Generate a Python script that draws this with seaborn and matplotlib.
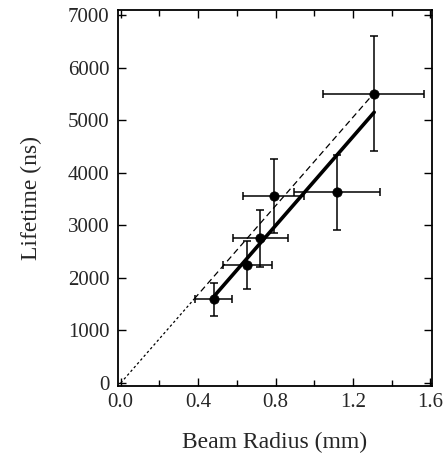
import matplotlib
matplotlib.use("Agg")
import matplotlib.pyplot as plt
from matplotlib.ticker import MultipleLocator
import seaborn as sns
import pandas as pd

# Data
radius = [0.48, 0.655, 0.722, 0.79, 1.117, 1.307]
lifetime = [1590, 2250, 2750, 3555, 3630, 5505]
radius_err = [0.095, 0.127, 0.144, 0.158, 0.222, 0.262]
lifetime_err = [310, 455, 548, 700, 713, 1100]

fit_x = [0.48, 1.31]
fit_y = [1640, 5150]

prop_dotted_x = [0.0, 0.38]
prop_dotted_y = [0, 1600]
prop_dashed_x = [0.38, 1.307]
prop_dashed_y = [1600, 5505]

xticks = [0.0, 0.4, 0.8, 1.2, 1.6]
yticks = [0, 1000, 2000, 3000, 4000, 5000, 6000, 7000]

sns.set_theme(style="ticks")
plt.rcParams['font.family'] = ['Liberation Serif', 'DejaVu Serif']

fig = plt.figure(figsize=(4.48, 4.55), dpi=100)
ax = fig.add_axes([0.2634, 0.1516, 0.701, 0.8264])

df = pd.DataFrame({"r": radius, "t": lifetime})

ax.errorbar(radius, lifetime, xerr=radius_err, yerr=lifetime_err, fmt="none",
            ecolor="black", elinewidth=1.1, capsize=3, capthick=1.1, zorder=2)

sns.lineplot(x=prop_dotted_x, y=prop_dotted_y, ax=ax, color="black", lw=0.9,
             linestyle=(0, (2, 2)), zorder=3)
sns.lineplot(x=prop_dashed_x, y=prop_dashed_y, ax=ax, color="black", lw=0.9,
             linestyle=(0, (5, 3)), zorder=3)
sns.lineplot(x=fit_x, y=fit_y, ax=ax, color="black", lw=2.6, zorder=4)

sns.scatterplot(data=df, x="r", y="t", ax=ax, color="black", s=45,
                edgecolor="black", zorder=5)

ax.set_xlim(-0.014, 1.609)
ax.set_ylim(-57, 7095)
ax.set_xticks(xticks)
ax.set_xticklabels([f"{v:.1f}" for v in xticks])
ax.set_yticks(yticks)
ax.set_yticklabels([str(v) for v in yticks])
ax.xaxis.set_minor_locator(MultipleLocator(0.2))

ax.tick_params(which="both", direction="in", top=True, right=True,
               labelsize=15, color="black", width=1.0)
ax.tick_params(axis="x", pad=5)
ax.tick_params(axis="y", pad=6)
ax.tick_params(which="major", length=6)
ax.tick_params(which="minor", length=4)

for s in ax.spines.values():
    s.set_linewidth(1.3)
    s.set_color("black")

ax.set_xlabel("Beam Radius (mm)", fontsize=17, labelpad=14)
ax.set_ylabel("Lifetime (ns)", fontsize=17, labelpad=19)

fig.savefig("out.png", dpi=100)
